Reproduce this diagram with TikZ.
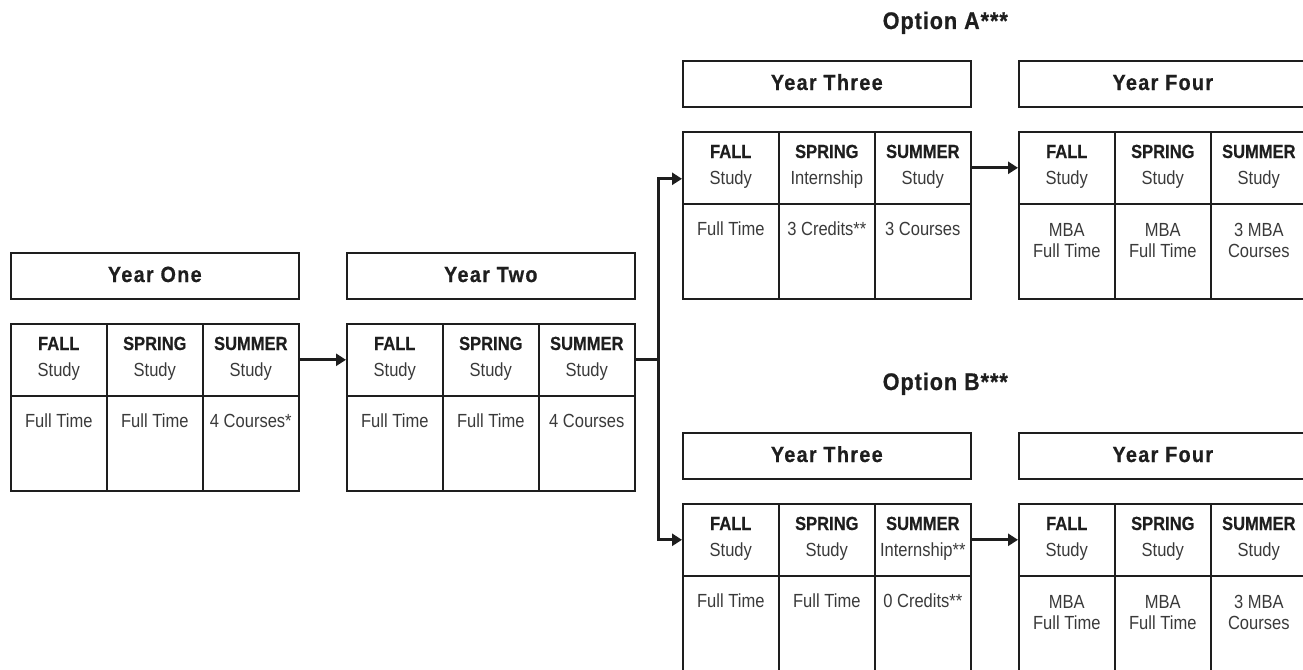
\documentclass[tikz,border=0pt]{standalone}
\usepackage{fontspec}
\setmainfont{Liberation Sans}[FakeStretch=0.87,BoldFeatures={FakeBold=0.4}]
\newfontfamily\hdrfont{Liberation Sans}[FakeStretch=0.9,LetterSpace=6,BoldFeatures={FakeBold=0.6}]
\newfontfamily\optfont{Liberation Sans}[FakeStretch=0.9,LetterSpace=4,BoldFeatures={FakeBold=0.6}]
\usetikzlibrary{arrows.meta}
\definecolor{ink}{HTML}{1E1E1E}
\definecolor{soft}{HTML}{3A3A3A}
\tikzset{
  hdrbox/.style={draw=ink, line width=1.6pt, minimum width=288pt, minimum height=46pt, inner sep=0pt, anchor=north west},
  cellbox/.style={draw=ink, line width=1.6pt, minimum width=96pt, minimum height=72pt, inner sep=0pt, anchor=north west},
  lowbox/.style={cellbox, minimum height=95pt},
  hdrtxt/.style={font=\hdrfont\bfseries\fontsize{22}{26}\selectfont, text=ink, anchor=base, inner sep=0pt},
  semtxt/.style={font=\bfseries\fontsize{19}{22}\selectfont, text=ink, anchor=base, inner sep=0pt},
  subtxt/.style={font=\fontsize{19}{22}\selectfont, text=soft, anchor=base, inner sep=0pt},
  opttxt/.style={font=\optfont\bfseries\fontsize{24}{28}\selectfont, text=ink, anchor=base east, inner sep=0pt},
  flow/.style={draw=ink, line width=2.8pt, -{Triangle[length=10pt,width=12pt]}},
  link/.style={draw=ink, line width=2.8pt},
}
\newcommand\yblock[4]{%
  \node[hdrbox] (#1h) at (#2,#3) {};
  \node[hdrtxt] (#1ht) at ([yshift=-30pt]#1h.north) {#4};
  \node[cellbox] (#1a) at (#2,#3+71) {};
  \node[cellbox] (#1b) at (#2+96,#3+71) {};
  \node[cellbox] (#1c) at (#2+192,#3+71) {};
  \node[lowbox] (#1d) at (#2,#3+143) {};
  \node[lowbox] (#1e) at (#2+96,#3+143) {};
  \node[lowbox] (#1f) at (#2+192,#3+143) {};
}
\newcommand\toplab[3]{%
  \node[semtxt] (#1t) at ([yshift=-27pt]#1.north) {#2};
  \node[subtxt] (#1s) at ([yshift=-53pt]#1.north) {#3};
}
\newcommand\lowlab[2]{%
  \node[subtxt] (#1t) at ([yshift=-32pt]#1.north) {#2};
}
\newcommand\lowlabb[3]{%
  \node[subtxt] (#1t) at ([yshift=-33pt]#1.north) {#2};
  \node[subtxt] (#1s) at ([yshift=-54pt]#1.north) {#3};
}
\begin{document}
\begin{tikzpicture}[x=1pt,y=-1pt]
\useasboundingbox (0,0) rectangle (1303,669);
\clip (0,0) rectangle (1303,669);

% Year One
\yblock{yo}{10}{252}{Year One}
\toplab{yoa}{FALL}{Study}
\toplab{yob}{SPRING}{Study}
\toplab{yoc}{SUMMER}{Study}
\lowlab{yod}{Full Time}
\lowlab{yoe}{Full Time}
\lowlab{yof}{4 Courses*}

% Year Two
\yblock{yt}{346}{252}{Year Two}
\toplab{yta}{FALL}{Study}
\toplab{ytb}{SPRING}{Study}
\toplab{ytc}{SUMMER}{Study}
\lowlab{ytd}{Full Time}
\lowlab{yte}{Full Time}
\lowlab{ytf}{4 Courses}

% Option A
\node[opttxt] (optA) at (1008,29) {Option A***};
\yblock{tha}{682}{60}{Year Three}
\toplab{thaa}{FALL}{Study}
\toplab{thab}{SPRING}{Internship}
\toplab{thac}{SUMMER}{Study}
\lowlab{thad}{Full Time}
\lowlab{thae}{3 Credits**}
\lowlab{thaf}{3 Courses}

\yblock{fra}{1018}{60}{Year Four}
\toplab{fraa}{FALL}{Study}
\toplab{frab}{SPRING}{Study}
\toplab{frac}{SUMMER}{Study}
\lowlabb{frad}{MBA}{Full Time}
\lowlabb{frae}{MBA}{Full Time}
\lowlabb{fraf}{3 MBA}{Courses}

% Option B
\node[opttxt] (optB) at (1008,390) {Option B***};
\yblock{thb}{682}{432}{Year Three}
\toplab{thba}{FALL}{Study}
\toplab{thbb}{SPRING}{Study}
\toplab{thbc}{SUMMER}{Internship**}
\lowlab{thbd}{Full Time}
\lowlab{thbe}{Full Time}
\lowlab{thbf}{0 Credits**}

\yblock{frb}{1018}{432}{Year Four}
\toplab{frba}{FALL}{Study}
\toplab{frbb}{SPRING}{Study}
\toplab{frbc}{SUMMER}{Study}
\lowlabb{frbd}{MBA}{Full Time}
\lowlabb{frbe}{MBA}{Full Time}
\lowlabb{frbf}{3 MBA}{Courses}

% connectors
\draw[flow] (yoc.east) -- (yta.west);
\coordinate (br) at ([xshift=23pt]ytc.east);
\draw[link] (ytc.east) -- (br);
\draw[flow] (br) |- ([yshift=-11pt]thaa.west);
\draw[flow] (br) |- (thba.west);
\draw[flow] (thac.east) -- (fraa.west);
\draw[flow] (thbc.east) -- (frba.west);
\end{tikzpicture}
\end{document}
